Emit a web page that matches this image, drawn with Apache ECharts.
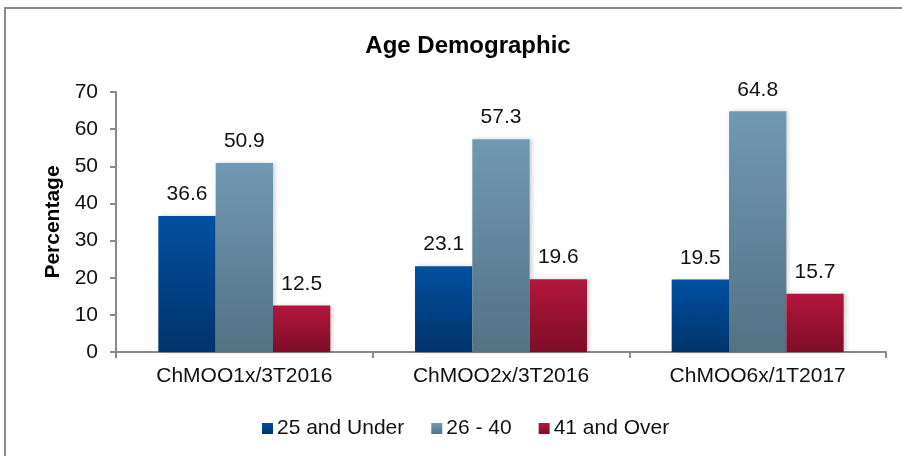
<!DOCTYPE html>
<html>
<head>
<meta charset="utf-8">
<script src="https://cdn.jsdelivr.net/npm/echarts@6/dist/echarts.min.js"></script>
<style>
  html, body { margin: 0; padding: 0; background: #fff; }
  #main { width: 902px; height: 456px; }
</style>
</head>
<body>
<div id="main"></div>
<script>
// data
const categories = ['ChMOO1x/3T2016', 'ChMOO2x/3T2016', 'ChMOO6x/1T2017']
const under25 = [36.6, 23.1, 19.5]
const age26to40 = [50.9, 57.3, 64.8]
const over41 = [12.5, 19.6, 15.7]

const font = 'Liberation Sans, Arial, sans-serif'

// vertical gradient, lighter on top
function grad (top, bottom) {
  return new echarts.graphic.LinearGradient(0, 0, 0, 1, [
    {offset: 0, color: top},
    {offset: 1, color: bottom}
  ])
}

function barSeries (name, data, top, bottom) {
  return {
    name: name,
    type: 'bar',
    data: data,
    barGap: '0%',
    barCategoryGap: '33%',
    itemStyle: {
      color: grad(top, bottom),
      shadowColor: 'rgba(0, 0, 0, 0.18)',
      shadowBlur: 4,
      shadowOffsetX: 2,
      shadowOffsetY: 0
    },
    label: {
      show: true,
      position: 'top',
      distance: 11,
      color: '#111',
      fontFamily: font,
      fontSize: 21
    }
  }
}

let myChart = echarts.init(document.getElementById('main'))

myChart.setOption({
  animation: false,
  title: {
    text: 'Age Demographic',
    left: 463,
    textAlign: 'center',
    top: 29,
    textStyle: {fontFamily: font, fontSize: 24, fontWeight: 'bold', color: '#000'}
  },
  graphic: [{
    type: 'rect',
    shape: {x: 5, y: 8, width: 1000, height: 1000},
    style: {fill: 'none', stroke: '#8a8a8a', lineWidth: 2},
    silent: true
  }],
  legend: {
    bottom: 12,
    left: 257,
    itemWidth: 11,
    itemHeight: 11,
    itemGap: 27,
    icon: 'rect',
    textStyle: {fontFamily: font, fontSize: 21, color: '#111', padding: [0, 0, 0, -1]}
  },
  grid: {left: 116, right: 16, top: 92, bottom: 104},
  xAxis: {
    type: 'category',
    data: categories,
    axisLine: {lineStyle: {color: '#8a8a8a', width: 2}},
    axisTick: {show: true, length: 6, alignWithLabel: false, lineStyle: {color: '#8a8a8a', width: 2}},
    axisLabel: {fontFamily: font, fontSize: 21, color: '#111', margin: 14}
  },
  yAxis: {
    type: 'value',
    min: 0,
    max: 70,
    interval: 10,
    name: 'Percentage',
    nameLocation: 'middle',
    nameGap: 44,
    nameTextStyle: {fontFamily: font, fontSize: 21, fontWeight: 'bold', color: '#000'},
    axisLine: {show: true, lineStyle: {color: '#8a8a8a', width: 2}},
    axisTick: {show: true, length: 6, lineStyle: {color: '#8a8a8a', width: 2}},
    axisLabel: {fontFamily: font, fontSize: 21, color: '#111', margin: 18},
    splitLine: {show: false}
  },
  series: [
    barSeries('25 and Under', under25, '#0050a0', '#00346c'),
    barSeries('26 - 40', age26to40, '#7199b2', '#537284'),
    barSeries('41 and Over', over41, '#b3163d', '#7e0c28')
  ]
})
</script>
</body>
</html>
